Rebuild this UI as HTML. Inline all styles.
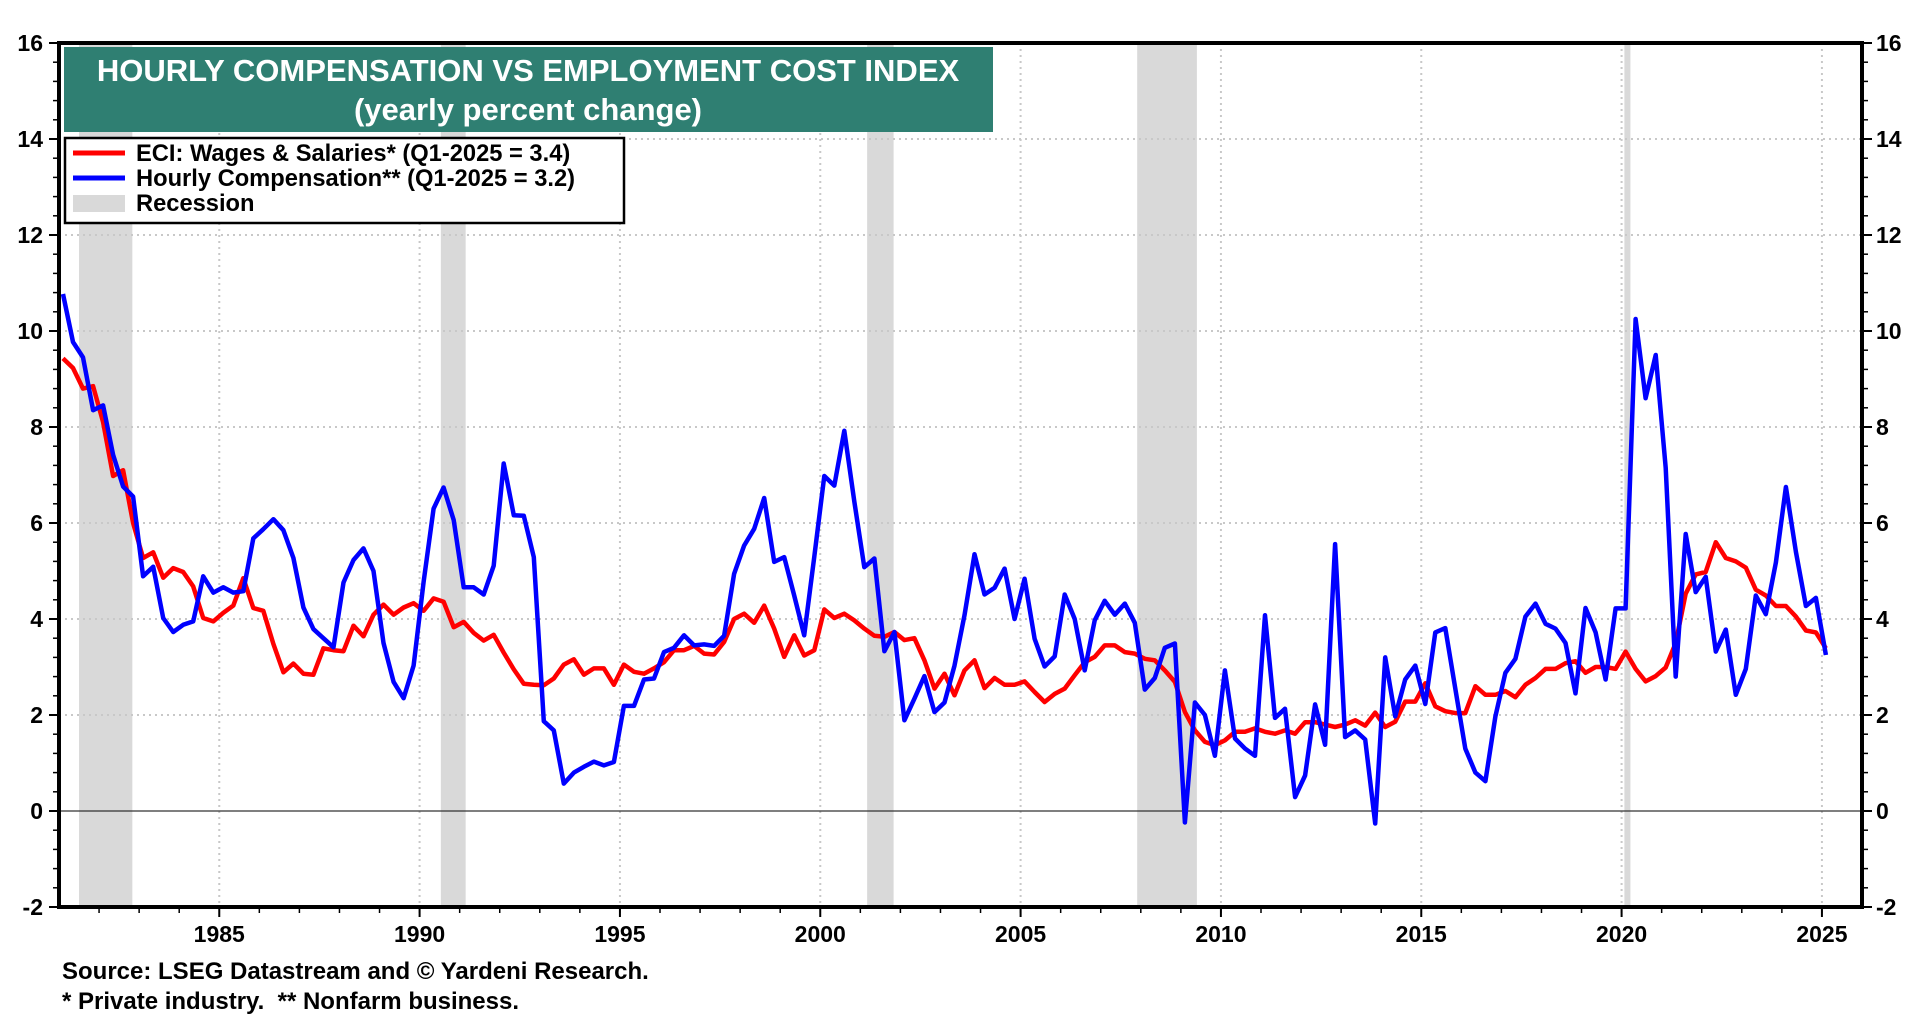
<!DOCTYPE html>
<html><head><meta charset="utf-8"><style>
html,body{margin:0;padding:0;background:#fff;}
svg{display:block;font-family:"Liberation Sans",Arial,sans-serif;font-weight:bold;}
</style></head><body>
<svg id="chart" width="1920" height="1020" viewBox="0 0 1920 1020" xmlns="http://www.w3.org/2000/svg">
<g id="recessions"></g>
<g id="grid"></g>
<g id="series"></g>
<g id="axes"></g>
<g>
<rect x="64" y="47" width="929" height="85" fill="#2f7f72"/>
<text x="528" y="81" text-anchor="middle" fill="#fff" font-size="31">HOURLY COMPENSATION VS EMPLOYMENT COST INDEX</text>
<text x="528" y="120" text-anchor="middle" fill="#fff" font-size="31">(yearly percent change)</text>
</g>
<g>
<rect x="65" y="138" width="559" height="85" fill="#fff" stroke="#000" stroke-width="2.5"/>
<g><line x1="73" y1="153" x2="125" y2="153" stroke="#ff0000" stroke-width="5"/><text x="136" y="161" font-size="23.7">ECI: Wages &amp; Salaries* (Q1-2025 = 3.4)</text></g>
<g><line x1="73" y1="178" x2="125" y2="178" stroke="#0000ff" stroke-width="5"/><text x="136" y="186" font-size="23.7">Hourly Compensation** (Q1-2025 = 3.2)</text></g>
<g><rect x="73" y="195" width="52" height="17" fill="#d9d9d9"/><text x="136" y="211" font-size="23.7">Recession</text></g>
</g>
<text x="62" y="979" font-size="24">Source: LSEG Datastream and © Yardeni Research.</text>
<text x="62" y="1009" font-size="24" xml:space="preserve" style="white-space:pre">* Private industry.  ** Nonfarm business.</text>
</svg>
<script>
const startYear = 1981;
const eciValues = [
9.43,9.23,8.8,8.85, 8.1,6.98,7.1,6.0, 5.27,5.39,4.86,5.06, 4.98,4.68,4.02,3.95,
4.13,4.28,4.85,4.23, 4.17,3.48,2.89,3.07, 2.86,2.84,3.39,3.35, 3.33,3.86,3.64,4.09,
4.3,4.09,4.24,4.33, 4.17,4.43,4.36,3.83, 3.94,3.71,3.55,3.67, 3.3,2.95,2.65,2.63,
2.62,2.76,3.05,3.16, 2.84,2.97,2.97,2.63, 3.05,2.9,2.86,2.97, 3.1,3.35,3.35,3.44,
3.28,3.26,3.52,4.0, 4.11,3.92,4.28,3.8, 3.21,3.66,3.24,3.35, 4.2,4.02,4.11,3.97,
3.8,3.65,3.63,3.73, 3.56,3.6,3.14,2.55, 2.86,2.41,2.93,3.14, 2.56,2.77,2.63,2.63,
2.7,2.48,2.27,2.44, 2.55,2.83,3.1,3.21, 3.45,3.45,3.31,3.28, 3.17,3.14,2.93,2.69,
2.06,1.68,1.44,1.37, 1.47,1.65,1.65,1.72, 1.65,1.61,1.68,1.61, 1.85,1.85,1.8,1.75,
1.8,1.89,1.78,2.05, 1.75,1.86,2.28,2.28, 2.66,2.18,2.08,2.04, 2.04,2.6,2.42,2.42,
2.5,2.37,2.63,2.77, 2.96,2.96,3.08,3.12, 2.88,3.0,3.0,2.96, 3.32,2.96,2.7,2.81,
2.99,3.5,4.53,4.93, 4.98,5.6,5.27,5.2, 5.07,4.61,4.49,4.27, 4.27,4.05,3.76,3.72,
3.39];
const compValues = [
10.77,9.77,9.45,8.35, 8.45,7.42,6.76,6.55, 4.89,5.09,4.02,3.73, 3.88,3.95,4.89,4.55,
4.66,4.55,4.58,5.68, 5.87,6.08,5.85,5.27, 4.24,3.79,3.6,3.41, 4.76,5.23,5.47,5.0,
3.5,2.69,2.35,3.03, 4.77,6.3,6.74,6.06, 4.66,4.66,4.51,5.11, 7.24,6.16,6.15,5.29,
1.87,1.68,0.57,0.8, 0.92,1.03,0.95,1.02, 2.19,2.19,2.74,2.76, 3.31,3.4,3.66,3.45,
3.47,3.44,3.65,4.94, 5.53,5.88,6.52,5.19, 5.29,4.49,3.66,5.3, 6.98,6.78,7.92,6.45,
5.08,5.26,3.33,3.73, 1.89,2.34,2.81,2.06, 2.26,3.03,4.08,5.35, 4.51,4.65,5.05,4.0,
4.84,3.59,3.01,3.22, 4.51,4.0,2.93,3.97, 4.38,4.09,4.32,3.92, 2.53,2.77,3.4,3.49,
-0.24,2.26,2.0,1.15, 2.93,1.51,1.3,1.15, 4.08,1.94,2.13,0.29, 0.74,2.22,1.38,5.56,
1.54,1.68,1.49,-0.26, 3.2,1.97,2.74,3.03, 2.23,3.72,3.81,2.55, 1.3,0.8,0.62,1.97,
2.88,3.17,4.05,4.32, 3.9,3.8,3.5,2.45, 4.23,3.72,2.74,4.22, 4.22,10.25,8.6,9.5,
7.15,2.8,5.77,4.56, 4.88,3.32,3.78,2.42, 2.96,4.49,4.1,5.18, 6.75,5.4,4.27,4.44,
3.25];
const recessionStarts = [1981.5, 1990.53, 2001.17, 2007.91, 2020.07];
const recessionEnds = [1982.83, 1991.15, 2001.83, 2009.4, 2020.22];
const yTicks = [-2,0,2,4,6,8,10,12,14,16];
const xTicks = [1985,1990,1995,2000,2005,2010,2015,2020,2025];

const L=59,R=1862,T=43,B=907,X0=1981,X1=2026,Y0=-2,Y1=16;
const xs=v=>L+(v-X0)/(X1-X0)*(R-L);
const ys=v=>B-(v-Y0)/(Y1-Y0)*(B-T);
const NS='http://www.w3.org/2000/svg';
function mk(tag,attrs,parent){const e=document.createElementNS(NS,tag);for(const k in attrs)e.setAttribute(k,attrs[k]);parent.appendChild(e);return e;}
const gR=document.getElementById('recessions'),gG=document.getElementById('grid'),gS=document.getElementById('series'),gA=document.getElementById('axes');

recessionStarts.forEach((s,i)=>{
  const r=mk('rect',{x:xs(s),y:T,width:xs(recessionEnds[i])-xs(s),height:B-T,fill:'#d9d9d9'},gR);
  
  
});
yTicks.forEach(v=>{
  if(v!==Y0&&v!==Y1&&v!==0){const l=mk('line',{x1:L,x2:R,y1:ys(v),y2:ys(v),stroke:'#c8c8c8','stroke-width':2,'stroke-dasharray':'2,4'},gG);
  
  }
});
xTicks.forEach(v=>{
  const l=mk('line',{x1:xs(v),x2:xs(v),y1:T,y2:B,stroke:'#c8c8c8','stroke-width':2,'stroke-dasharray':'2,4'},gG);
  
  
});
const z=mk('line',{x1:L,x2:R,y1:ys(0),y2:ys(0),stroke:'#333','stroke-width':1.2},gG);



function path(vals,color,name){
  const d=vals.map((v,i)=>{const t=startYear+Math.floor(i/4)+(i%4)/4+0.1;return (i?'L':'M')+xs(t).toFixed(1)+','+ys(v).toFixed(1);}).join('');
  const p=mk('path',{d:d,fill:'none',stroke:color,'stroke-width':4.5,'stroke-linejoin':'round'},gS);
  
  
}
path(eciValues,'#ff0000','eci-line');
path(compValues,'#0000ff','hourly-comp-line');

const fr=mk('rect',{x:L,y:T,width:R-L,height:B-T,fill:'none',stroke:'#000','stroke-width':4},gA);


for(let v=Y0;v<=Y1+0.001;v+=0.4){
  mk('line',{x1:L-6,x2:L,y1:ys(v),y2:ys(v),stroke:'#000','stroke-width':1.5},gA);
  mk('line',{x1:R,x2:R+6,y1:ys(v),y2:ys(v),stroke:'#000','stroke-width':1.5},gA);
}
yTicks.forEach(v=>{
  mk('line',{x1:L-10,x2:L,y1:ys(v),y2:ys(v),stroke:'#000','stroke-width':2},gA);
  mk('line',{x1:R,x2:R+10,y1:ys(v),y2:ys(v),stroke:'#000','stroke-width':2},gA);
  const a=mk('text',{x:L-16,y:ys(v)+8,'text-anchor':'end','font-size':23},gA);a.textContent=v;
  
  
  const b=mk('text',{x:R+14,y:ys(v)+8,'text-anchor':'start','font-size':23},gA);b.textContent=v;
  
  
});
for(let y=1982;y<=2025;y++){mk('line',{x1:xs(y),x2:xs(y),y1:B,y2:B+6,stroke:'#000','stroke-width':1.5},gA);}
xTicks.forEach(v=>{
  const t=mk('text',{x:xs(v),y:942,'text-anchor':'middle','font-size':23},gA);t.textContent=v;
  mk('line',{x1:xs(v),x2:xs(v),y1:B,y2:B+10,stroke:'#000','stroke-width':2},gA);
  
  
});
</script>
</body></html>
